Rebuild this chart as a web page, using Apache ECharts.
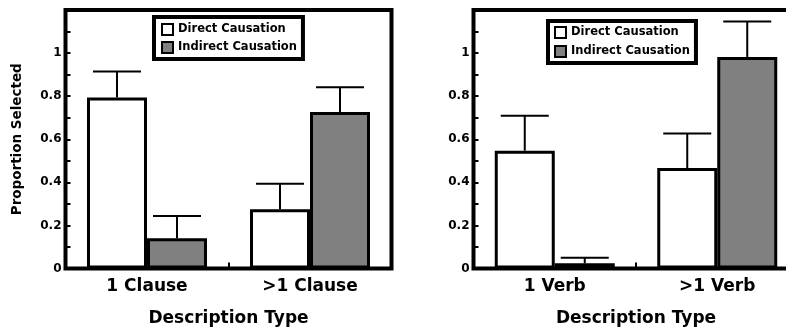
<!DOCTYPE html>
<html><head><meta charset="utf-8">
<script src="https://cdn.jsdelivr.net/npm/echarts@6/dist/echarts.min.js"></script>
<style>html,body{margin:0;padding:0;background:#fff;overflow:hidden}#c{width:786px;height:329px}</style>
</head><body><div id="c"></div>
<script>
// ---- data ----
var seriesNames = ['Direct Causation', 'Indirect Causation'];
var clauseCategories = ['1 Clause', '>1 Clause'];
var verbCategories = ['1 Verb', '>1 Verb'];
var clauseDirect = [0.794, 0.275];
var clauseDirectErr = [0.121, 0.119];
var clauseIndirect = [0.140, 0.727];
var clauseIndirectErr = [0.104, 0.114];
var verbDirect = [0.547, 0.466];
var verbDirectErr = [0.162, 0.161];
var verbIndirect = [0.024, 0.982];
var verbIndirectErr = [0.026, 0.165];
var yTickValues = [0, 0.2, 0.4, 0.6, 0.8, 1];
var yAxisTitle = 'Proportion Selected';
var xAxisTitle = 'Description Type';

// ---- style ----
var FONT = 'DejaVu Sans';
var BAR_W = 60;
var CAP_W = 48;
var GRAY = '#808080';

function errRender(sign) {
  return function (params, api) {
    var ci = api.value(0), v = api.value(1), e = api.value(2);
    var base = api.coord([ci, v]);
    var top = api.coord([ci, v + e]);
    var x = base[0] + sign * BAR_W / 2;
    return {
      type: 'group',
      children: [
        {type: 'line', shape: {x1: x, y1: base[1], x2: x, y2: top[1]}, style: {stroke: '#000', lineWidth: 2}},
        {type: 'line', shape: {x1: x - CAP_W / 2, y1: top[1], x2: x + CAP_W / 2, y2: top[1]}, style: {stroke: '#000', lineWidth: 2}}
      ]
    };
  };
}
function errData(vals, errs) {
  return vals.map(function (v, i) { return [i, v, errs[i]]; });
}
function yAxis(gi, withName) {
  var ax = {
    type: 'value', gridIndex: gi, min: 0, max: 1.2, interval: 0.1,
    splitLine: {show: false},
    axisLine: {show: true, lineStyle: {color: '#000', width: 3}},
    axisTick: {show: true, inside: true, length: 5, lineStyle: {color: '#000', width: 2}},
    axisLabel: {
      margin: 4, color: '#000', fontFamily: FONT, fontWeight: 'bold', fontSize: 12,
      formatter: function (v) {
        for (var i = 0; i < yTickValues.length; i++) {
          if (Math.abs(v - yTickValues[i]) < 1e-6) return String(yTickValues[i]);
        }
        return '';
      }
    }
  };
  if (withName) {
    ax.name = yAxisTitle;
    ax.nameLocation = 'middle';
    ax.nameGap = 41;
    ax.nameTextStyle = {color: '#000', fontFamily: FONT, fontWeight: 'bold', fontSize: 13.5};
  }
  return ax;
}
function xAxis(gi, cats) {
  return {
    type: 'category', gridIndex: gi, data: cats,
    name: xAxisTitle, nameLocation: 'middle', nameGap: 42,
    nameTextStyle: {color: '#000', fontFamily: FONT, fontWeight: 'bold', fontSize: 17},
    axisLine: {show: true, lineStyle: {color: '#000', width: 3}},
    axisTick: {show: true, inside: true, length: 6, lineStyle: {color: '#000', width: 2}},
    axisLabel: {margin: 10, color: '#000', fontFamily: FONT, fontWeight: 'bold', fontSize: 17},
    splitLine: {show: false}
  };
}
function barSeries(name, gi, data, color) {
  return {
    name: name, type: 'bar', xAxisIndex: gi, yAxisIndex: gi, data: data,
    barWidth: BAR_W, barGap: '0%',
    itemStyle: {color: color, borderColor: '#000', borderWidth: 3},
    z: 2
  };
}
function errSeries(name, gi, vals, errs, sign) {
  return {
    name: name, type: 'custom', xAxisIndex: gi, yAxisIndex: gi,
    data: errData(vals, errs), encode: {x: 0, y: 1},
    renderItem: errRender(sign), z: 3, silent: true
  };
}
function legend(left, top, padding, gap) {
  return {
    data: seriesNames, orient: 'vertical', left: left, top: top,
    padding: padding, itemGap: gap, itemWidth: 11, itemHeight: 11,
    borderColor: '#000', borderWidth: 4, backgroundColor: '#fff',
    icon: 'rect', selectedMode: false,
    itemStyle: {borderColor: '#000', borderWidth: 2},
    textStyle: {color: '#000', fontFamily: FONT, fontWeight: 'bold', fontSize: 11.5}
  };
}

var option = {
  animation: false,
  backgroundColor: '#fff',
  legend: [legend(154, 17, [6, 6, 5, 7], 5), legend(548, 21, [5, 6, 5, 6], 6)],
  grid: [
    {left: 65.5, top: 10, width: 326, height: 258.5, outerBoundsMode: 'none', containLabel: false, show: true, borderColor: '#000', borderWidth: 4, backgroundColor: 'transparent'},
    {left: 473.5, top: 10, width: 325, height: 258.5, outerBoundsMode: 'none', containLabel: false, show: true, borderColor: '#000', borderWidth: 4, backgroundColor: 'transparent'}
  ],
  xAxis: [xAxis(0, clauseCategories), xAxis(1, verbCategories)],
  yAxis: [yAxis(0, true), yAxis(1, false)],
  series: [
    barSeries(seriesNames[0], 0, clauseDirect, '#fff'),
    barSeries(seriesNames[1], 0, clauseIndirect, GRAY),
    barSeries(seriesNames[0], 1, verbDirect, '#fff'),
    barSeries(seriesNames[1], 1, verbIndirect, GRAY),
    errSeries(seriesNames[0], 0, clauseDirect, clauseDirectErr, -1),
    errSeries(seriesNames[1], 0, clauseIndirect, clauseIndirectErr, 1),
    errSeries(seriesNames[0], 1, verbDirect, verbDirectErr, -1),
    errSeries(seriesNames[1], 1, verbIndirect, verbIndirectErr, 1)
  ]
};
var chart = echarts.init(document.getElementById('c'), null, {renderer: 'canvas'});
chart.setOption(option);
</script>
</body></html>
